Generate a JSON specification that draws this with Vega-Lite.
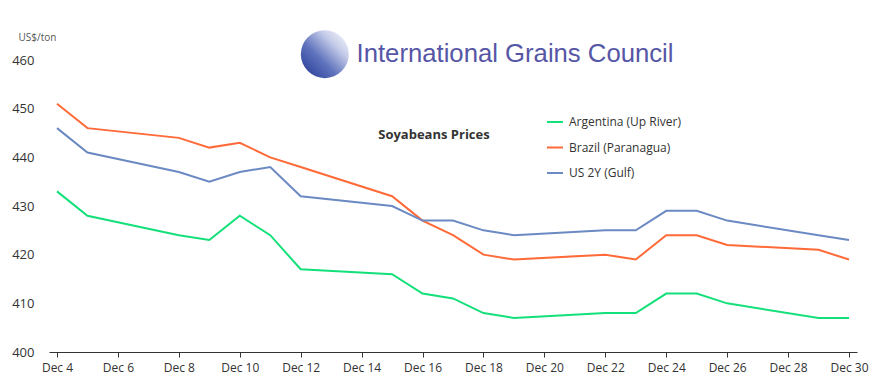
{
  "$schema": "https://vega.github.io/schema/vega-lite/v6.json",
  "width": 808,
  "height": 292,
  "autosize": {"type": "none"},
  "padding": {"left": 49, "top": 60, "right": 18, "bottom": 39},
  "background": "white",
  "config": {"view": {"stroke": null}, "font": "Open Sans"},
  "layer": [
    {
      "data": {"values": [{}]},
      "mark": {"type": "rect", "fill": "white"},
      "encoding": {
        "x": {"datum": {"year": 2025, "month": 12, "date": 11, "hours": 12}, "type": "temporal"},
        "x2": {"datum": {"year": 2025, "month": 12, "date": 25, "hours": 12}},
        "y": {"datum": 458.8, "type": "quantitative"},
        "y2": {"datum": 467}
      }
    },
    {
      "data": {
        "values": [
          {"date": "2025-12-04T00:00", "country": "Argentina (Up River)", "price": 433},
          {"date": "2025-12-05T00:00", "country": "Argentina (Up River)", "price": 428},
          {"date": "2025-12-08T00:00", "country": "Argentina (Up River)", "price": 424},
          {"date": "2025-12-09T00:00", "country": "Argentina (Up River)", "price": 423},
          {"date": "2025-12-10T00:00", "country": "Argentina (Up River)", "price": 428},
          {"date": "2025-12-11T00:00", "country": "Argentina (Up River)", "price": 424},
          {"date": "2025-12-12T00:00", "country": "Argentina (Up River)", "price": 417},
          {"date": "2025-12-15T00:00", "country": "Argentina (Up River)", "price": 416},
          {"date": "2025-12-16T00:00", "country": "Argentina (Up River)", "price": 412},
          {"date": "2025-12-17T00:00", "country": "Argentina (Up River)", "price": 411},
          {"date": "2025-12-18T00:00", "country": "Argentina (Up River)", "price": 408},
          {"date": "2025-12-19T00:00", "country": "Argentina (Up River)", "price": 407},
          {"date": "2025-12-22T00:00", "country": "Argentina (Up River)", "price": 408},
          {"date": "2025-12-23T00:00", "country": "Argentina (Up River)", "price": 408},
          {"date": "2025-12-24T00:00", "country": "Argentina (Up River)", "price": 412},
          {"date": "2025-12-25T00:00", "country": "Argentina (Up River)", "price": 412},
          {"date": "2025-12-26T00:00", "country": "Argentina (Up River)", "price": 410},
          {"date": "2025-12-29T00:00", "country": "Argentina (Up River)", "price": 407},
          {"date": "2025-12-30T00:00", "country": "Argentina (Up River)", "price": 407},
          {"date": "2025-12-04T00:00", "country": "Brazil (Paranagua)", "price": 451},
          {"date": "2025-12-05T00:00", "country": "Brazil (Paranagua)", "price": 446},
          {"date": "2025-12-08T00:00", "country": "Brazil (Paranagua)", "price": 444},
          {"date": "2025-12-09T00:00", "country": "Brazil (Paranagua)", "price": 442},
          {"date": "2025-12-10T00:00", "country": "Brazil (Paranagua)", "price": 443},
          {"date": "2025-12-11T00:00", "country": "Brazil (Paranagua)", "price": 440},
          {"date": "2025-12-12T00:00", "country": "Brazil (Paranagua)", "price": 438},
          {"date": "2025-12-15T00:00", "country": "Brazil (Paranagua)", "price": 432},
          {"date": "2025-12-16T00:00", "country": "Brazil (Paranagua)", "price": 427},
          {"date": "2025-12-17T00:00", "country": "Brazil (Paranagua)", "price": 424},
          {"date": "2025-12-18T00:00", "country": "Brazil (Paranagua)", "price": 420},
          {"date": "2025-12-19T00:00", "country": "Brazil (Paranagua)", "price": 419},
          {"date": "2025-12-22T00:00", "country": "Brazil (Paranagua)", "price": 420},
          {"date": "2025-12-23T00:00", "country": "Brazil (Paranagua)", "price": 419},
          {"date": "2025-12-24T00:00", "country": "Brazil (Paranagua)", "price": 424},
          {"date": "2025-12-25T00:00", "country": "Brazil (Paranagua)", "price": 424},
          {"date": "2025-12-26T00:00", "country": "Brazil (Paranagua)", "price": 422},
          {"date": "2025-12-29T00:00", "country": "Brazil (Paranagua)", "price": 421},
          {"date": "2025-12-30T00:00", "country": "Brazil (Paranagua)", "price": 419},
          {"date": "2025-12-04T00:00", "country": "US 2Y (Gulf)", "price": 446},
          {"date": "2025-12-05T00:00", "country": "US 2Y (Gulf)", "price": 441},
          {"date": "2025-12-08T00:00", "country": "US 2Y (Gulf)", "price": 437},
          {"date": "2025-12-09T00:00", "country": "US 2Y (Gulf)", "price": 435},
          {"date": "2025-12-10T00:00", "country": "US 2Y (Gulf)", "price": 437},
          {"date": "2025-12-11T00:00", "country": "US 2Y (Gulf)", "price": 438},
          {"date": "2025-12-12T00:00", "country": "US 2Y (Gulf)", "price": 432},
          {"date": "2025-12-15T00:00", "country": "US 2Y (Gulf)", "price": 430},
          {"date": "2025-12-16T00:00", "country": "US 2Y (Gulf)", "price": 427},
          {"date": "2025-12-17T00:00", "country": "US 2Y (Gulf)", "price": 427},
          {"date": "2025-12-18T00:00", "country": "US 2Y (Gulf)", "price": 425},
          {"date": "2025-12-19T00:00", "country": "US 2Y (Gulf)", "price": 424},
          {"date": "2025-12-22T00:00", "country": "US 2Y (Gulf)", "price": 425},
          {"date": "2025-12-23T00:00", "country": "US 2Y (Gulf)", "price": 425},
          {"date": "2025-12-24T00:00", "country": "US 2Y (Gulf)", "price": 429},
          {"date": "2025-12-25T00:00", "country": "US 2Y (Gulf)", "price": 429},
          {"date": "2025-12-26T00:00", "country": "US 2Y (Gulf)", "price": 427},
          {"date": "2025-12-29T00:00", "country": "US 2Y (Gulf)", "price": 424},
          {"date": "2025-12-30T00:00", "country": "US 2Y (Gulf)", "price": 423}
        ]
      },
      "mark": {"type": "line", "strokeWidth": 2},
      "encoding": {
        "x": {
          "field": "date",
          "type": "temporal",
          "scale": {"padding": 8},
          "axis": {
            "title": null,
            "format": "%b %-d",
            "values": [
              {"year": 2025, "month": 12, "date": 4},
              {"year": 2025, "month": 12, "date": 6},
              {"year": 2025, "month": 12, "date": 8},
              {"year": 2025, "month": 12, "date": 10},
              {"year": 2025, "month": 12, "date": 12},
              {"year": 2025, "month": 12, "date": 14},
              {"year": 2025, "month": 12, "date": 16},
              {"year": 2025, "month": 12, "date": 18},
              {"year": 2025, "month": 12, "date": 20},
              {"year": 2025, "month": 12, "date": 22},
              {"year": 2025, "month": 12, "date": 24},
              {"year": 2025, "month": 12, "date": 26},
              {"year": 2025, "month": 12, "date": 28},
              {"year": 2025, "month": 12, "date": 30}
            ],
            "grid": false,
            "domainColor": "#333333",
            "tickColor": "#333333",
            "tickSize": 5,
            "labelFontSize": 12,
            "labelColor": "#333333",
            "labelPadding": 5,
            "labelFlush": false
          }
        },
        "y": {
          "field": "price",
          "type": "quantitative",
          "scale": {"domain": [400, 460], "zero": false, "nice": false},
          "axis": {
            "values": [400, 410, 420, 430, 440, 450, 460],
            "domain": false,
            "ticks": false,
            "gridColor": "#e6e6e6",
            "labelFontSize": 13,
            "labelColor": "#333333",
            "labelPadding": 15,
            "title": "US$/ton",
            "titleAngle": 0,
            "titleAlign": "left",
            "titleBaseline": "middle",
            "titleX": -31,
            "titleY": -23,
            "titleFontSize": 10,
            "titleFontWeight": "normal",
            "titleColor": "#555555"
          }
        },
        "color": {
          "field": "country",
          "type": "nominal",
          "scale": {
            "domain": ["Argentina (Up River)", "Brazil (Paranagua)", "US 2Y (Gulf)"],
            "range": ["#14e07a", "#ff6a38", "#6b89c2"]
          },
          "legend": {
            "orient": "none",
            "legendX": 489,
            "legendY": 45,
            "title": null,
            "fillColor": "white",
            "padding": 8,
            "symbolType": "stroke",
            "symbolSize": 256,
            "symbolStrokeWidth": 2,
            "labelFontSize": 12,
            "labelColor": "#333333",
            "rowPadding": 10.5,
            "labelOffset": 5
          }
        }
      }
    },
    {
      "data": {"values": [{}]},
      "mark": {"type": "text", "text": "Soyabeans Prices", "fontSize": 13, "fontWeight": "bold", "color": "#333333", "align": "center", "baseline": "middle"},
      "encoding": {
        "x": {"datum": {"year": 2025, "month": 12, "date": 16, "hours": 9}, "type": "temporal"},
        "y": {"datum": 444.6, "type": "quantitative"}
      }
    },
    {
      "data": {"values": [{}]},
      "mark": {"type": "text", "text": "International Grains Council", "font": "Liberation Sans", "fontSize": 25.7, "color": "#5656a6", "align": "left", "baseline": "alphabetic"},
      "encoding": {
        "x": {"datum": {"year": 2025, "month": 12, "date": 13, "hours": 20}, "type": "temporal"},
        "y": {"datum": 459.6, "type": "quantitative"}
      }
    },
    {
      "data": {"values": [{}]},
      "mark": {
        "type": "point",
        "shape": "circle",
        "filled": true,
        "size": 2300,
        "opacity": 1,
        "color": {
          "gradient": "linear",
          "x1": 1, "y1": 0, "x2": 0, "y2": 1,
          "stops": [
            {"offset": 0, "color": "#ffffff"},
            {"offset": 0.3, "color": "#c4cbe8"},
            {"offset": 0.6, "color": "#5f72bd"},
            {"offset": 1, "color": "#1f3590"}
          ]
        }
      },
      "encoding": {
        "x": {"datum": {"year": 2025, "month": 12, "date": 12, "hours": 19}, "type": "temporal"},
        "y": {"datum": 461.2, "type": "quantitative"}
      }
    }
  ]
}
